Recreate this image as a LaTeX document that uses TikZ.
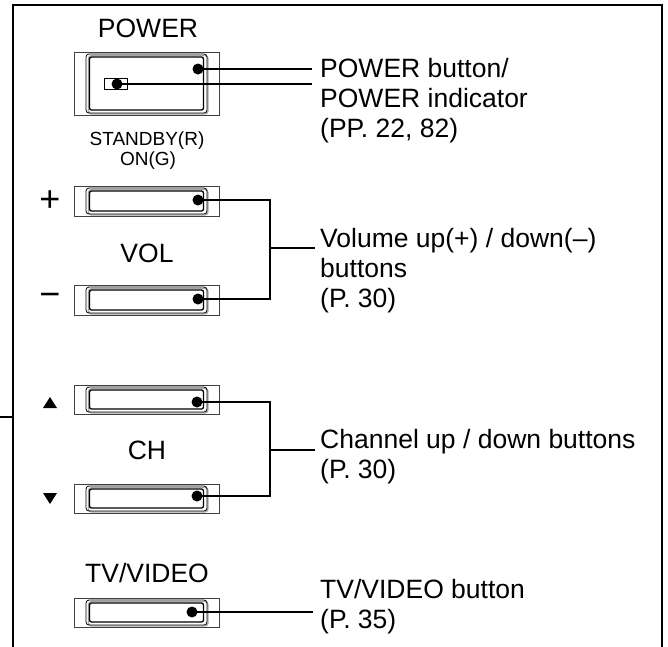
\documentclass[tikz,border=0pt]{standalone}
\usepackage{fontspec}
\setmainfont{Liberation Sans}
\newcommand\drawbtn[2]{%
  \draw[outerbox] (74,#1) rectangle (219,#2);
  \draw[shadowline] (88.5,{#1+3.5}) rectangle (208,{#2-1});
  \draw[innerA] (86,{#1+2}) rectangle (207,{#2-2});
  \draw[innerB] (89.5,{#1+5}) rectangle (203.5,{#2-5});
}
\newcommand\lbl[1]{\vtop{\baselineskip=30pt #1}}
\begin{document}
\begin{tikzpicture}[x=1pt,y=-1pt,
  frame/.style={line width=2.6pt, line cap=rect},
  conn/.style={line width=2pt},
  outerbox/.style={draw=black!75, line width=0.9pt},
  shadowline/.style={draw=black!35, line width=1.2pt, rounded corners=3pt},
  innerA/.style={draw=black, line width=0.8pt, rounded corners=3pt},
  innerB/.style={draw=black, line width=1.3pt, rounded corners=2pt},
  dot/.style={circle, fill=black, inner sep=0pt, minimum size=11pt},
  big/.style={font=\fontsize{26.5}{30}\selectfont, inner sep=0pt},
  small/.style={font=\fontsize{19}{21}\selectfont, inner sep=0pt},
  sym/.style={font=\fontsize{36}{36}\selectfont, inner sep=0pt}]
\useasboundingbox (0,0) rectangle (668,646);
% frame
\draw[frame] (13,646) -- (13,5) -- (662,5) -- (662,646);
\draw[frame] (0,417) -- (13,417);

% POWER
\node[big, anchor=base] (tpower) at (148,37) {POWER};
\drawbtn{52}{115}
\draw[line width=0.8pt] (104,78) rectangle (127,89);
\node[small, anchor=base] (tstandby) at (147,145.5) {STANDBY(R)};
\node[small, anchor=base] (ton) at (148,165) {ON(G)};
\node[dot] (dp1) at (198,69) {};
\node[dot] (dp2) at (117,84) {};
\coordinate (ep1) at (312,69);
\coordinate (ep2) at (312,84);
\draw[conn] (dp1.center) -- (ep1);
\draw[conn] (dp2.center) -- (ep2);
\node[big, anchor=base west] (lpower) at (320,77)
  {\lbl{\hbox{POWER button/}\hbox{POWER indicator}\hbox{(PP. 22, 82)}}};

% VOL
\node[sym] (tplus) at (50,201) {+};
\node[sym] (tminus) at (50,300) {−};
\drawbtn{186}{216}
\drawbtn{285}{315}
\node[big, anchor=base] (tvol) at (147,262) {VOL};
\node[dot] (dv1) at (198,200) {};
\node[dot] (dv2) at (198,299) {};
\coordinate (jv1) at (270,200);
\coordinate (jv2) at (270,299);
\coordinate (jvm) at (270,248);
\coordinate (ev) at (315,248);
\draw[conn] (dv1.center) -- (jv1) -- (jv2) -- (dv2.center);
\draw[conn] (jvm) -- (ev);
\node[big, anchor=base west] (lvol) at (320,247)
  {\lbl{\hbox{Volume up(+) / down(–)}\hbox{buttons}\hbox{(P. 30)}}};

% CH
\fill (43,408) -- (57,408) -- (50,397) -- cycle;
\fill (43,493) -- (57,493) -- (50,504) -- cycle;
\drawbtn{385}{414}
\drawbtn{484}{513}
\node[big, anchor=base] (tch) at (147,459) {CH};
\node[dot] (dc1) at (197,402) {};
\node[dot] (dc2) at (197,496) {};
\coordinate (jc1) at (270,402);
\coordinate (jc2) at (270,496);
\coordinate (jcm) at (270,450);
\coordinate (ec) at (315,450);
\draw[conn] (dc1.center) -- (jc1) -- (jc2) -- (dc2.center);
\draw[conn] (jcm) -- (ec);
\node[big, anchor=base west] (lch) at (320,448)
  {\lbl{\hbox{Channel up / down buttons}\hbox{(P. 30)}}};

% TV/VIDEO
\node[big, anchor=base] (ttv) at (147,582) {TV/VIDEO};
\drawbtn{598}{627}
\node[dot] (dt) at (192,612) {};
\coordinate (et) at (313,612);
\draw[conn] (dt.center) -- (et);
\node[big, anchor=base west] (ltv) at (320,598)
  {\lbl{\hbox{TV/VIDEO button}\hbox{(P. 35)}}};
\end{tikzpicture}
\end{document}
